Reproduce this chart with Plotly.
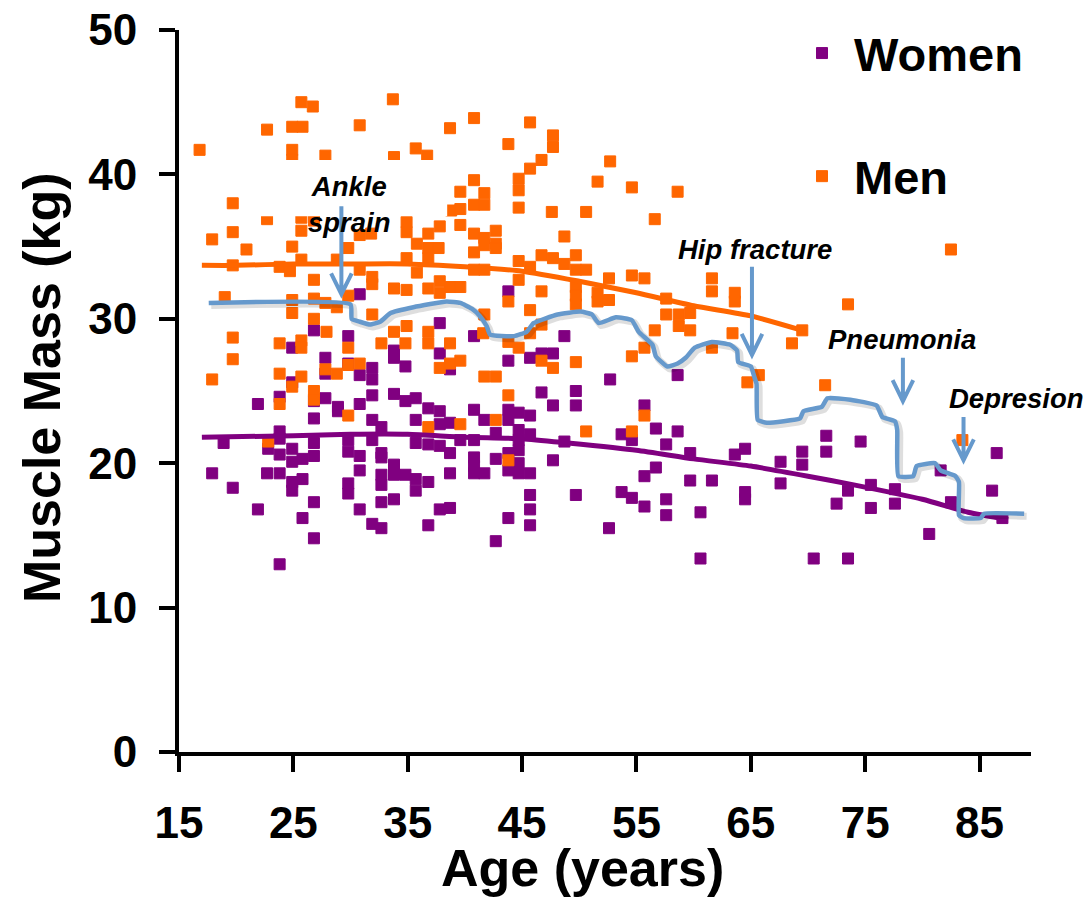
import plotly.graph_objects as go

# ---- scatter data: age (years) vs muscle mass (kg) ----
women_age = [30.8, 26.8, 37.8, 29.8, 43.8,
             24.9, 27.8, 27.8, 29.8, 30.8, 31.9, 31.9, 24.9, 33.8, 33.8, 34.8, 37.8, 38.7,
             21.9, 23.8, 26.8, 27.8, 28.9, 28.9, 30.8, 31.9, 33.8, 34.8, 35.7, 36.8, 37.8,
             26.8, 31.9, 32.7, 35.7, 37.8, 38.7, 18.9, 23.8, 23.8, 22.8, 23.8, 24.9, 24.9,
             25.8, 26.8, 26.8, 29.8, 29.8, 30.8, 31.9, 32.7, 32.7, 35.7, 36.8, 37.8, 38.7,
             39.6, 17.9, 22.7, 23.8, 24.9, 24.9, 25.8, 30.8, 33.8, 32.7, 32.7, 33.8, 34.8,
             35.7, 35.7, 36.8, 38.7, 29.8, 29.8, 19.7, 26.8, 32.7, 33.8, 21.9, 30.8, 37.8,
             38.7, 25.8, 31.9, 32.7, 36.8, 26.8, 23.8,
             40.8, 48.7, 43.8, 45.7, 46.7, 47.7, 52.7, 58.6, 46.7, 47.7, 49.7, 49.7, 40.8,
             41.7, 43.8, 43.8, 44.7, 45.7, 55.7, 56.7, 58.6, 53.7, 54.6, 57.6, 40.8, 42.7,
             44.7, 44.7, 44.7, 44.7, 44.7, 45.7, 48.7, 59.7, 63.6, 64.5, 40.8, 40.8, 42.7,
             43.8, 47.7, 40.8, 41.7, 43.8, 45.7, 55.7, 56.7, 59.7, 61.6, 64.5, 64.5, 45.7,
             45.7, 45.7, 49.7, 53.7, 54.6, 55.7, 57.6, 57.6, 60.6, 43.8, 42.7, 52.6, 60.6,
             71.6, 71.6, 74.6, 69.5, 69.5, 67.6, 67.6, 86.5, 81.6, 86.1, 73.5, 75.5, 75.5,
             77.6, 77.6, 72.5, 82.5, 80.6, 70.5, 73.5, 87.0]
women_mass = [31.7, 29.2, 29.7, 28.8, 31.9,
              28.0, 27.3, 26.2, 26.9, 26.1, 26.6, 25.8, 25.6, 27.8, 27.3, 26.7, 27.6, 26.5,
              24.1, 24.6, 24.3, 24.5, 23.9, 23.6, 24.1, 24.7, 24.8, 24.3, 24.5, 23.8, 23.6,
              23.1, 23.0, 22.5, 23.0, 22.7, 22.8, 21.4, 22.2, 21.7, 21.0, 20.6, 21.0, 20.1,
              20.3, 21.4, 20.5, 21.6, 20.8, 20.5, 21.6, 20.7, 20.4, 21.4, 21.3, 21.2, 20.7,
              21.6, 19.3, 19.3, 19.3, 18.7, 18.1, 18.9, 19.5, 19.9, 19.2, 18.5, 19.2, 19.2,
              18.9, 18.1, 18.7, 19.3, 18.6, 17.9, 18.3, 17.3, 17.3, 17.5, 16.8, 16.8, 16.8,
              16.9, 16.2, 15.8, 15.5, 15.7, 14.8, 13.0,
              28.8, 28.8, 27.1, 27.3, 27.6, 27.6, 25.8, 26.1, 24.9, 24.0, 25.0, 24.0, 23.7,
              23.0, 23.7, 23.0, 23.5, 23.3, 24.0, 22.4, 22.2, 22.0, 21.6, 21.3, 21.6, 22.1,
              22.3, 21.6, 20.9, 20.0, 19.3, 22.0, 21.5, 20.7, 20.6, 21.0, 20.4, 19.8, 20.3,
              20.7, 20.2, 19.3, 19.3, 19.5, 19.3, 19.1, 19.7, 18.8, 18.8, 18.0, 17.5, 17.8,
              16.8, 15.7, 17.8, 18.0, 17.6, 17.0, 17.5, 16.4, 16.6, 16.2, 14.6, 15.5, 13.4,
              21.9, 20.8, 21.5, 20.8, 19.9, 20.1, 18.6, 20.7, 19.5, 18.1, 18.1, 18.5, 16.9,
              18.2, 17.2, 17.2, 17.3, 15.1, 13.4, 13.4, 16.2]

men_age = [25.7, 26.7, 33.7, 22.7, 24.9, 25.8, 30.8, 38.7, 16.8, 24.9, 24.9, 27.8, 33.8,
           35.7, 36.7,
           19.7, 22.7, 19.7, 17.9, 20.9, 24.9, 25.7, 25.7, 26.8, 29.8, 30.8, 31.8, 34.9,
           34.9, 36.8, 37.8, 38.8, 39.6, 39.6, 39.6, 35.8, 36.8, 36.8, 37.7, 34.9, 19.7,
           23.8, 24.7, 25.7, 28.8, 30.8, 31.9, 31.9, 26.8, 35.8, 19.0, 24.9, 24.9, 26.8,
           26.8, 27.8, 28.8, 29.8, 33.8, 34.9, 36.8, 37.8, 37.8, 38.7, 39.6, 31.9, 34.9,
           36.8, 27.9, 19.7,
           19.7, 17.9, 23.8, 25.7, 25.7, 23.8, 25.7, 24.9, 23.8, 26.8, 26.8, 27.8, 28.8,
           29.8, 29.8, 30.8, 29.8, 22.8, 32.7, 33.8, 34.8, 36.8, 38.7, 37.8, 38.7, 39.6,
           36.8, 39.6,
           40.8, 45.7, 47.7, 47.7, 43.8, 46.7, 45.7, 44.7, 44.7, 52.7, 51.6, 54.6, 58.6,
           40.8, 41.7, 40.8, 41.7, 44.7, 47.6, 50.6, 56.6, 42.7, 40.8, 41.7, 41.7, 42.7,
           42.7, 48.7, 40.8, 44.7, 46.7, 47.7, 48.7, 49.7, 45.7, 40.8, 41.7, 49.7, 50.6,
           44.7, 52.6, 54.6, 55.7, 61.6, 61.6, 49.7, 49.7, 49.7, 46.7, 43.8, 51.6, 51.6,
           52.6, 57.6, 57.6, 63.6, 63.6, 45.7, 58.7, 59.7, 41.7, 46.7, 56.6, 58.7, 59.7,
           63.4,
           82.5, 73.5, 69.5, 68.6, 61.6, 64.7, 65.7, 71.5, 83.5,
           41.6, 43.8, 44.7, 45.7, 46.7, 47.7, 49.7, 41.7, 42.7, 43.8, 42.7, 43.8, 50.6,
           54.6, 55.7, 54.6, 55.7]
men_mass = [45.0, 44.7, 45.2, 43.1, 43.3, 43.3, 43.4, 43.2, 41.7, 41.7, 41.0, 41.3, 41.2,
            41.8, 41.3,
            38.0, 36.9, 36.0, 35.5, 34.8, 35.0, 37.0, 36.1, 36.8, 34.9, 35.8, 35.9, 36.7,
            36.0, 35.9, 36.4, 37.5, 38.8, 37.6, 36.5, 35.2, 34.9, 34.2, 34.9, 34.2, 33.7,
            33.6, 33.3, 34.1, 34.1, 33.4, 32.9, 32.4, 32.7, 33.2, 31.5, 31.3, 30.4, 31.4,
            30.0, 31.1, 30.8, 31.6, 32.1, 32.0, 32.1, 32.6, 31.8, 32.2, 32.2, 30.3, 29.5,
            29.1, 29.1, 28.7,
            27.2, 25.8, 28.3, 28.5, 28.0, 26.2, 26.0, 25.3, 24.1, 25.0, 24.4, 26.5, 26.2,
            28.0, 26.8, 26.9, 23.3, 21.5, 28.3, 29.1, 28.3, 28.3, 28.3, 26.6, 26.9, 27.1,
            22.5, 22.7,
            43.9, 43.6, 42.7, 41.9, 42.1, 41.0, 40.4, 39.7, 38.9, 40.9, 39.5, 39.1, 38.8,
            39.6, 38.7, 37.9, 37.9, 37.7, 37.4, 37.4, 36.9, 36.1, 35.9, 35.6, 35.1, 35.2,
            34.9, 35.7, 34.6, 34.0, 34.4, 34.2, 33.8, 34.4, 33.6, 33.4, 33.4, 33.4, 33.4,
            32.7, 32.8, 33.0, 32.8, 32.8, 31.9, 32.2, 31.6, 31.0, 31.9, 31.2, 31.8, 31.2,
            31.3, 31.4, 30.3, 31.8, 31.2, 30.6, 30.3, 30.4, 30.3, 29.6, 29.2, 29.5, 29.2,
            29.0,
            34.8, 31.0, 29.2, 28.3, 28.0, 25.6, 26.1, 25.4, 21.6,
            29.0, 28.4, 28.0, 29.0, 27.1, 26.6, 27.0, 26.0, 26.0, 24.7, 23.0, 20.2, 22.2,
            22.2, 23.3, 27.4, 28.0]

# ---- smoothed population trends ----
men_trend_age = [17, 20, 25, 30, 35, 40, 45, 50, 55, 60, 65, 69.5]
men_trend_mass = [33.7, 33.7, 33.8, 33.8, 33.8, 33.6, 33.3, 32.6, 31.8, 30.9, 30.2, 29.2]
women_trend_age = [17, 25, 30, 35, 40, 45, 49, 55, 60, 65, 70, 74, 80, 84, 87.5]
women_trend_mass = [21.8, 21.9, 22.0, 22.0, 21.8, 21.7, 21.4, 20.9, 20.3, 19.8, 19.1,
                    18.5, 17.5, 16.6, 16.1]

# ---- one person's muscle-mass trajectory with health events ----
traj_age = [17.6, 30.0, 30.1, 30.8, 31.7, 32.6, 33.5, 35.5, 38.4, 39.6, 40.6, 41.3,
            41.9, 42.2, 44.3, 45.4, 46.0, 48.1, 50.1, 51.1, 51.7, 53.2, 54.6, 55.2,
            56.4, 56.7, 57.7, 58.6, 59.3, 60.1, 61.6, 63.2, 63.8, 63.9, 65.0, 65.3,
            65.5, 65.6, 66.4, 69.3, 69.6, 71.2, 71.7, 73.7, 76.0, 76.5, 77.6, 77.8,
            77.9, 79.2, 79.5, 81.1, 81.6, 82.9, 83.2, 83.2, 83.6, 85.1, 85.4, 88.9]
traj_mass = [31.1, 31.0, 30.0, 29.8, 29.6, 29.8, 30.4, 30.8, 31.2, 31.1, 30.7, 30.2,
             29.5, 28.9, 28.8, 29.1, 29.7, 30.3, 30.5, 30.3, 29.7, 30.1, 29.9, 29.1,
             28.2, 27.4, 26.7, 26.9, 27.3, 28.0, 28.4, 28.2, 27.8, 27.0, 26.7, 26.0,
             25.5, 23.0, 22.8, 23.1, 23.6, 23.9, 24.5, 24.4, 24.0, 23.2, 22.9, 22.3,
             19.1, 19.1, 19.8, 20.0, 19.5, 19.1, 18.7, 16.4, 16.2, 16.2, 16.5, 16.5]

event_labels = ["Ankle<br>sprain", "Hip fracture", "Pneumonia", "Depresion"]
event_age = [29.2, 65.1, 78.3, 83.6]
arrow_top = [37.8, 33.6, 27.3, 23.2]
arrow_tip = [31.7, 27.5, 24.3, 20.2]
label_age = [29.9, 65.35, 78.25, 88.2]
label_mass = [37.9, 34.8, 28.6, 24.45]

# ---- styling ----
ORANGE = "#FF6600"
PURPLE = "#800080"
BLUE = "#6699CC"
FONT = "Liberation Sans, Arial, sans-serif"

X_RANGE = [15, 89.5]
Y_RANGE = [0, 50]
PLOT_W, PLOT_H = 852, 722  # plotting area in px
px_x = (X_RANGE[1] - X_RANGE[0]) / PLOT_W
px_y = (Y_RANGE[1] - Y_RANGE[0]) / PLOT_H

fig = go.Figure()

fig.add_trace(go.Scatter(
    x=women_age, y=women_mass, mode="markers", name="Women",
    legendgroup="w",
    marker=dict(symbol="square", size=11, color=PURPLE,
                line=dict(color=PURPLE, width=1)),
))
fig.add_trace(go.Scatter(
    x=men_age, y=men_mass, mode="markers", name="Men",
    legendgroup="m",
    marker=dict(symbol="square", size=11, color=ORANGE,
                line=dict(color=ORANGE, width=1)),
))
fig.add_trace(go.Scatter(
    x=women_trend_age, y=women_trend_mass, mode="lines", showlegend=False,
    line=dict(color=PURPLE, width=5, shape="spline", smoothing=0.6),
))
fig.add_trace(go.Scatter(
    x=men_trend_age, y=men_trend_mass, mode="lines", showlegend=False,
    line=dict(color=ORANGE, width=5, shape="spline", smoothing=0.6),
))

# soft drop shadow under the trajectory
fig.add_trace(go.Scatter(
    x=[a + 2.5 * px_x for a in traj_age], y=[m - 2.5 * px_y for m in traj_mass],
    mode="lines", showlegend=False, hoverinfo="skip",
    line=dict(color="rgba(0,0,0,0.13)", width=7, shape="spline", smoothing=0.4),
))
fig.add_trace(go.Scatter(
    x=traj_age, y=traj_mass, mode="lines", showlegend=False,
    line=dict(color=BLUE, width=4.5, shape="spline", smoothing=0.4),
))

shapes = [
    # text box behind the first event label
    dict(type="rect", xref="x", yref="y", x0=21.5, x1=38.45, y0=37.1, y1=41.0,
         fillcolor="white", line=dict(width=0), layer="above"),
]
head_w = 0.9   # years
head_h = 1.45  # kg
for a, top, tip in zip(event_age, arrow_top, arrow_tip):
    path = (f"M {a},{top} L {a},{tip} "
            f"M {a - head_w},{tip + head_h} L {a},{tip} L {a + head_w},{tip + head_h}")
    shapes.append(dict(type="path", xref="x", yref="y", path=path,
                       line=dict(color=BLUE, width=4), layer="above"))

annotations = []
for lab, a, m in zip(event_labels, label_age, label_mass):
    annotations.append(dict(
        x=a, y=m, xref="x", yref="y", text=lab, showarrow=False,
        font=dict(family=FONT, size=27.5, color="black", weight="bold", style="italic"),
        xanchor="center", yanchor="middle", align="center",
    ))
annotations.append(dict(
    x=(42 - 179) / PLOT_W, y=(752 - 388) / PLOT_H, xref="paper", yref="paper",
    text="Muscle Mass (kg)", showarrow=False, textangle=-90,
    font=dict(family=FONT, size=52, color="black", weight="bold"),
    xanchor="center", yanchor="middle",
))
annotations.append(dict(
    x=(582 - 179) / PLOT_W, y=(752 - 868) / PLOT_H, xref="paper", yref="paper",
    text="Age (years)", showarrow=False,
    font=dict(family=FONT, size=52, color="black", weight="bold"),
    xanchor="center", yanchor="middle",
))

fig.update_layout(
    width=1091, height=897,
    margin=dict(l=179, r=60, t=30, b=145, autoexpand=False),
    paper_bgcolor="white", plot_bgcolor="white",
    font=dict(family=FONT, color="black"),
    shapes=shapes, annotations=annotations,
    legend=dict(x=(790 - 179) / PLOT_W, y=1.0 + 14 / PLOT_H,
                xanchor="left", yanchor="top",
                font=dict(family=FONT, size=47, color="black", weight="bold"),
                itemwidth=54,
                tracegroupgap=59, bgcolor="rgba(0,0,0,0)"),
    showlegend=True,
)
fig.update_xaxes(
    range=X_RANGE, tickvals=[15, 25, 35, 45, 55, 65, 75, 85], automargin=False,
    showline=True, linecolor="black", linewidth=4,
    ticks="outside", ticklen=16, tickwidth=4, tickcolor="black",
    tickfont=dict(family=FONT, size=44, color="black", weight="bold"),
    ticklabelstandoff=13, showgrid=False, zeroline=False,
)
fig.update_yaxes(
    range=Y_RANGE, tickvals=[0, 10, 20, 30, 40, 50], automargin=False,
    showline=True, linecolor="black", linewidth=4,
    ticks="outside", ticklen=16, tickwidth=4, tickcolor="black",
    tickfont=dict(family=FONT, size=44, color="black", weight="bold"),
    ticklabelstandoff=13, showgrid=False, zeroline=False,
)

fig.write_html("out.html")
